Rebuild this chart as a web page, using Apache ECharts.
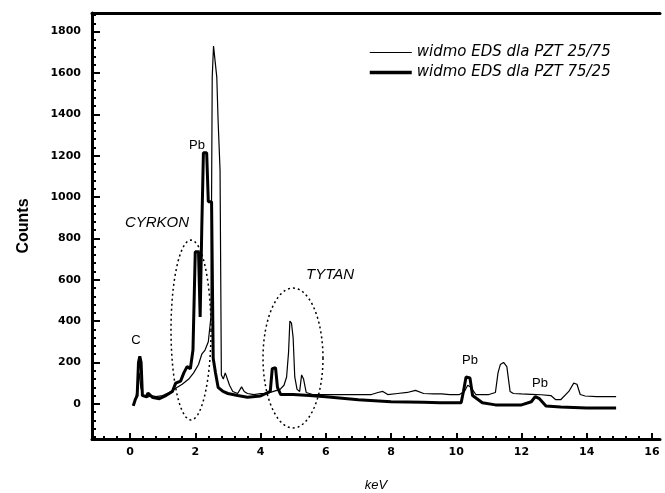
<!DOCTYPE html>
<html>
<head>
<meta charset="utf-8">
<script src="https://cdn.jsdelivr.net/npm/echarts@6/dist/echarts.min.js"></script>
<style>
  html, body { margin: 0; padding: 0; background: #fff; }
  #chart { width: 665px; height: 493px; }
</style>
</head>
<body>
<div id="chart"></div>
<script>
// spectra: [keV, counts]
var spectrum2575 = [
  [0.10,-5],[0.18,30],[0.24,90],[0.28,150],[0.33,80],[0.40,40],[0.50,30],[0.65,40],[0.80,35],[1.00,40],
  [1.20,55],[1.40,75],[1.60,95],[1.80,120],[1.95,150],[2.10,190],[2.20,240],[2.30,260],[2.40,300],[2.48,420],[2.52,1580],
  [2.56,1730],[2.62,1730],[2.66,1580],[2.70,1370],[2.76,1130],[2.80,140],[2.86,120],[2.92,150],[2.98,150],[3.05,90],
  [3.15,60],[3.30,50],[3.42,82],[3.50,60],[3.60,50],[3.80,45],[4.00,50],[4.20,50],[4.40,60],[4.60,70],
  [4.72,90],[4.80,130],[4.86,250],[4.90,400],[4.95,390],[5.00,320],[5.05,130],[5.12,70],[5.20,60],[5.26,140],
  [5.32,120],[5.40,55],[5.60,45],[6.00,45],[6.50,45],[7.00,45],[7.40,45],[7.60,55],[7.75,60],[7.90,45],
  [8.20,50],[8.50,55],[8.75,65],[9.00,50],[9.30,48],[9.55,48],[9.80,45],[10.10,45],[10.25,60],[10.35,90],
  [10.45,80],[10.60,45],[11.00,45],[11.20,55],[11.28,150],[11.35,190],[11.45,200],[11.55,180],[11.65,60],[11.75,50],
  [12.00,48],[12.30,46],[12.60,44],[12.90,40],[13.05,20],[13.20,20],[13.45,60],[13.60,100],[13.70,95],[13.80,45],
  [13.95,38],[14.30,35],[14.60,35],[14.90,35]
];
var spectrum7525 = [
  [0.10,-10],[0.16,20],[0.22,40],[0.26,200],[0.30,230],[0.34,200],[0.38,40],[0.50,35],[0.55,52],[0.70,30],
  [0.90,25],[1.10,40],[1.30,60],[1.40,100],[1.55,110],[1.65,150],[1.75,180],[1.85,170],[1.93,260],[2.00,735],
  [2.10,735],[2.15,420],[2.20,850],[2.25,1214],[2.35,1214],[2.40,977],[2.50,977],[2.55,220],[2.62,150],[2.70,80],
  [2.85,60],[3.00,50],[3.30,40],[3.60,32],[4.00,38],[4.30,60],[4.36,170],[4.46,175],[4.52,80],[4.62,45],
  [5.00,45],[5.50,40],[6.00,34],[7.00,20],[8.00,10],[9.00,8],[9.50,5],[10.15,5],[10.22,60],[10.30,130],
  [10.42,125],[10.50,40],[10.80,5],[11.20,-5],[12.00,-5],[12.30,10],[12.42,35],[12.55,25],[12.75,-10],[13.20,-15],
  [14.00,-20],[14.90,-20]
];
var seriesNames = ['widmo EDS dla PZT 25/75', 'widmo EDS dla PZT 75/25'];
var xTickLabels = [0, 2, 4, 6, 8, 10, 12, 14, 16];
var yTickLabels = [0, 200, 400, 600, 800, 1000, 1200, 1400, 1600, 1800];

var xMin = -1.165, xMax = 16.245, yMin = -170, yMax = 1890;

var xMinor = [];
for (var v = -1.2; v <= xMax; v += 0.4) { if (v >= xMin) xMinor.push(+v.toFixed(2)); }
var yMinor = [];
for (var w = -160; w <= yMax; w += 40) yMinor.push(w);

var dom = document.getElementById('chart');
var myChart = echarts.init(dom, null, { renderer: 'canvas' });

function ellipsePoints(cx, cy, rx, ry) {
  var pts = [];
  for (var i = 0; i < 72; i++) {
    var a = i / 72 * Math.PI * 2;
    pts.push([cx + rx * Math.cos(a), cy + ry * Math.sin(a)]);
  }
  return pts;
}

var labelFont = { fontFamily: 'DejaVu Sans', fontWeight: 'bold', fontSize: 11, color: '#000' };
var noteFont = { fontFamily: 'Liberation Sans', fontSize: 13, fill: '#000' };
var plain = function (val) { return String(val); };

// tick-only axes (no line, no labels), glued to the grid edge
function tickAxis(pos, min, max, values, len) {
  return {
    type: 'value', min: min, max: max, position: pos,
    axisLine: { show: false, onZero: false },
    axisTick: { show: true, inside: true, length: len, customValues: values, lineStyle: { color: '#000', width: 2 } },
    axisLabel: { show: false },
    splitLine: { show: false }
  };
}

var option = {
  animation: false,
  backgroundColor: '#fff',
  grid: { left: 92, right: 5, top: 13, bottom: 54, outerBoundsMode: 'none' },
  legend: {
    orient: 'vertical',
    left: 363,
    top: 40,
    itemWidth: 42,
    itemHeight: 10,
    itemGap: 5,
    itemStyle: { color: 'rgba(0,0,0,0)', borderColor: 'rgba(0,0,0,0)', borderWidth: 0 },
    textStyle: { fontFamily: 'DejaVu Sans', fontStyle: 'italic', fontSize: 15, color: '#000' },
    data: [
      { name: seriesNames[0], lineStyle: { width: 1.2, color: '#000' } },
      { name: seriesNames[1], lineStyle: { width: 3.5, color: '#000' } }
    ]
  },
  xAxis: [
    {
      type: 'value', min: xMin, max: xMax, position: 'bottom',
      name: 'keV', nameLocation: 'middle', nameGap: 40,
      nameTextStyle: { fontFamily: 'Liberation Sans', fontStyle: 'italic', fontSize: 13, color: '#000' },
      axisLine: { show: true, onZero: false, lineStyle: { color: '#000', width: 3 } },
      axisTick: { show: false },
      axisLabel: { customValues: xTickLabels, margin: 8, formatter: plain, ...labelFont },
      splitLine: { show: false }
    },
    tickAxis('bottom', xMin, xMax, xTickLabels, 6),
    tickAxis('bottom', xMin, xMax, xMinor, 3),
    {
      type: 'value', min: xMin, max: xMax, position: 'top',
      axisLine: { show: true, onZero: false, lineStyle: { color: '#000', width: 3 } },
      axisTick: { show: false }, axisLabel: { show: false }, splitLine: { show: false }
    }
  ],
  yAxis: [
    {
      type: 'value', min: yMin, max: yMax, position: 'left',
      name: 'Counts', nameLocation: 'middle', nameGap: 60, nameRotate: 90,
      nameTextStyle: { fontFamily: 'Liberation Sans Narrow, Liberation Sans', fontWeight: 'bold', fontSize: 16, color: '#000' },
      axisLine: { show: true, onZero: false, lineStyle: { color: '#000', width: 3 } },
      axisTick: { show: false },
      axisLabel: { customValues: yTickLabels, margin: 11, formatter: plain, ...labelFont },
      splitLine: { show: false }
    },
    tickAxis('left', yMin, yMax, yTickLabels, 8),
    tickAxis('left', yMin, yMax, yMinor, 4)
  ],
  series: [
    {
      name: seriesNames[0], type: 'line', data: spectrum2575, symbol: 'none',
      lineStyle: { color: '#000', width: 1.2 }, itemStyle: { color: '#000' }, z: 2
    },
    {
      name: seriesNames[1], type: 'line', data: spectrum7525, symbol: 'none',
      lineStyle: { color: '#000', width: 3 }, itemStyle: { color: '#000' }, z: 3
    }
  ],
  graphic: [
    { type: 'polygon', shape: { points: ellipsePoints(191, 330, 20, 90) },
      style: { fill: 'none', stroke: '#000', lineWidth: 1.5, lineDash: [2, 3] }, z: 10 },
    { type: 'polygon', shape: { points: ellipsePoints(293, 358, 30, 70) },
      style: { fill: 'none', stroke: '#000', lineWidth: 1.5, lineDash: [2, 3] }, z: 10 },
    { type: 'text', x: 136, y: 340, style: Object.assign({ text: 'C', align: 'center', verticalAlign: 'middle' }, noteFont), z: 10 },
    { type: 'text', x: 197, y: 145, style: Object.assign({ text: 'Pb', align: 'center', verticalAlign: 'middle' }, noteFont), z: 10 },
    { type: 'text', x: 470, y: 360, style: Object.assign({ text: 'Pb', align: 'center', verticalAlign: 'middle' }, noteFont), z: 10 },
    { type: 'text', x: 540, y: 383, style: Object.assign({ text: 'Pb', align: 'center', verticalAlign: 'middle' }, noteFont), z: 10 },
    { type: 'text', x: 157, y: 223, style: Object.assign({ text: 'CYRKON', align: 'center', verticalAlign: 'middle' }, noteFont, { fontSize: 15, fontStyle: 'italic' }), z: 10 },
    { type: 'text', x: 330, y: 275, style: Object.assign({ text: 'TYTAN', align: 'center', verticalAlign: 'middle' }, noteFont, { fontSize: 15, fontStyle: 'italic' }), z: 10 }
  ]
};

myChart.setOption(option);
window.addEventListener('resize', myChart.resize);
</script>
</body>
</html>
